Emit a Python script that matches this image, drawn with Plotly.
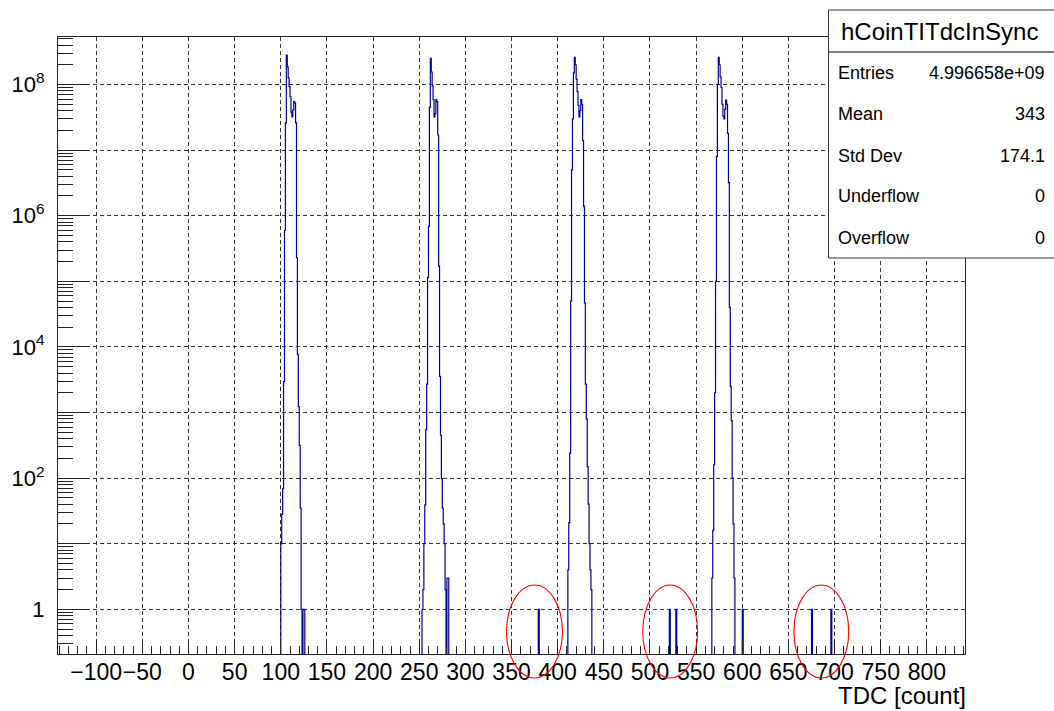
import plotly.graph_objects as go

# ---------------- data ----------------
# histogram: 1-unit wide bins, edges from bin_low_edge to bin_high_edge
bin_low_edge = -141
bin_high_edge = 841

peak1_first_bin = 100
peak1_counts = [10, 28, 69, 2950, 6.0e5, 2.6e7, 2.8e8, 1.86e8, 1.26e8, 9.3e7,
                6.5e7, 3.8e7, 3.2e7, 4.1e7, 5.5e7, 5.2e7, 2.6e7, 2.3e5, 7600,
                1230, 316, 35, 1, 0, 1, 1]

peak2_first_bin = 253
peak2_counts = [1, 2, 10, 39, 550, 2700, 1.15e5, 6.9e5, 4.5e7, 2.5e8, 1.55e8,
                9.5e7, 5.9e7, 3.2e7, 3.6e7, 5.9e7, 5.5e7, 1.7e7, 1.7e5, 3550,
                450, 98, 35, 20, 10, 2, 0, 3, 3]

peak3_first_bin = 411
peak3_counts = [4, 21, 240, 5.0e4, 5.0e6, 3.0e7, 1.5e8, 2.6e8, 2.0e8, 1.2e8,
                7.8e7, 4.8e7, 3.2e7, 4.0e7, 5.9e7, 5.0e7, 1.4e7, 1.4e6, 4.7e4,
                2700, 800, 150, 40, 10, 4, 2]

peak4_first_bin = 567
peak4_counts = [3, 16, 160, 2000, 1.0e5, 8.0e6, 1.0e8, 2.6e8, 2.0e8, 1.3e8,
                9.0e7, 5.0e7, 3.3e7, 3.0e7, 4.2e7, 5.8e7, 5.0e7, 1.8e7, 3.2e6,
                4.0e4, 2500, 750, 100, 20, 3]

isolated_bins = [379, 521, 528, 600, 675, 696]
isolated_counts = [1, 1, 1, 1, 1, 1]

x_tick_vals = [-100, -50, 0, 50, 100, 150, 200, 250, 300, 350, 400, 450,
               500, 550, 600, 650, 700, 750, 800]
x_tick_text = ["\u2212100", "\u221250", "0", "50", "100", "150", "200", "250",
               "300", "350", "400", "450", "500", "550", "600", "650", "700",
               "750", "800"]
y_tick_vals = [1, 1e1, 1e2, 1e3, 1e4, 1e5, 1e6, 1e7, 1e8]
y_tick_text = ["1", "", "10<sup>2</sup>", "", "10<sup>4</sup>", "",
               "10<sup>6</sup>", "", "10<sup>8</sup>"]

x_title = "TDC [count]"
stats_title = "hCoinTITdcInSync"
stats_labels = ["Entries", "Mean", "Std Dev", "Underflow", "Overflow"]
stats_values = ["4.996658e+09", "343", "174.1", "0", "0"]

# circled regions (TDC ranges of the red ellipses)
circle_x_ranges = [(344.6, 405.1), (492.2, 551.6), (655.9, 715.3)]

# ---------------- build the histogram ----------------
edges = list(range(bin_low_edge, bin_high_edge + 1))
counts = [0.0] * (len(edges) - 1)
for start, vals in [(peak1_first_bin, peak1_counts), (peak2_first_bin, peak2_counts),
                    (peak3_first_bin, peak3_counts), (peak4_first_bin, peak4_counts)]:
    for i, v in enumerate(vals):
        counts[start - bin_low_edge + i] = v
for b, v in zip(isolated_bins, isolated_counts):
    counts[b - bin_low_edge] = v

FLOOR = 1e-3  # empty bins drawn below the log-axis minimum (like ROOT)
y_plot = [c if c > 0 else FLOOR for c in counts]
y_plot.append(y_plot[-1])

fig = go.Figure()
fig.add_trace(go.Scatter(
    x=edges, y=y_plot, mode="lines", line_shape="hv",
    line=dict(color="rgb(0,0,150)", width=1.2),
    hoverinfo="skip", showlegend=False))

FONT = "Liberation Sans, Arial, Helvetica, sans-serif"
AXCOL = "#222222"
GRIDCOL = "#333333"

minor_y = [m * 10 ** k for k in range(-1, 9) for m in range(2, 10)]
minor_y = [v for v in minor_y if 0.2 < v < 5.3e8]

fig.update_xaxes(
    type="linear", range=[-141.4, 841.3],
    tickmode="array", tickvals=x_tick_vals, ticktext=x_tick_text, tickangle=0,
    ticks="inside", ticklen=14, tickwidth=1, tickcolor=AXCOL,
    ticklabelstandoff=-3,
    minor=dict(tickmode="linear", tick0=0, dtick=10, ticks="inside", ticklen=8,
               tickwidth=1, tickcolor=AXCOL, showgrid=False),
    showgrid=True, gridcolor=GRIDCOL, gridwidth=1, griddash="4px,3px",
    showline=True, linecolor=AXCOL, linewidth=1, mirror=True,
    zeroline=False, tickfont=dict(family=FONT, size=23, color="black"),
)
fig.update_yaxes(
    type="log", range=[-0.681, 8.724],
    tickmode="array", tickvals=y_tick_vals, ticktext=y_tick_text,
    ticks="inside", ticklen=31, tickwidth=1, tickcolor=AXCOL,
    ticklabelstandoff=8,
    minor=dict(tickmode="array", tickvals=minor_y, ticks="inside", ticklen=15,
               tickwidth=1, tickcolor=AXCOL, showgrid=False),
    showgrid=True, gridcolor=GRIDCOL, gridwidth=1, griddash="4px,3px",
    showline=True, linecolor=AXCOL, linewidth=1, mirror=True,
    zeroline=False, tickfont=dict(family=FONT, size=22, color="black"),
)

shapes = []
# red ellipses
for x0, x1 in circle_x_ranges:
    shapes.append(dict(type="circle", xref="x", yref="paper", x0=x0, x1=x1,
                       y0=-0.0389, y1=0.1118, line=dict(color="red", width=1.1),
                       fillcolor="rgba(0,0,0,0)", layer="above"))
# stats box
shapes.append(dict(type="rect", xref="paper", yref="paper", x0=0.8495, x1=1.12,
                   y0=0.6418, y1=1.0438, line=dict(color="#333333", width=1),
                   fillcolor="white", layer="above"))
shapes.append(dict(type="line", xref="paper", yref="paper", x0=0.8495, x1=1.12,
                   y0=0.9757, y1=0.9757, line=dict(color="#555555", width=1.5),
                   layer="above"))

annotations = []
annotations.append(dict(text=x_title, xref="paper", yref="paper", x=1.0033, y=-0.068,
                        xanchor="right", yanchor="middle", showarrow=False,
                        font=dict(family=FONT, size=24, color="black")))
annotations.append(dict(text=stats_title, xref="paper", yref="paper", x=0.9714,
                        y=1.0097, xanchor="center", yanchor="middle", showarrow=False,
                        font=dict(family=FONT, size=24, color="black")))
row_y = [0.9417, 0.8744, 0.8079, 0.7415, 0.6742]
for lab, val, yy in zip(stats_labels, stats_values, row_y):
    annotations.append(dict(text=lab, xref="paper", yref="paper", x=0.8574, y=yy,
                            xanchor="left", yanchor="middle", showarrow=False,
                            font=dict(family=FONT, size=18, color="black")))
    annotations.append(dict(text=val, xref="paper", yref="paper", x=1.0901, y=yy,
                            xanchor="right", yanchor="middle", showarrow=False,
                            font=dict(family=FONT, size=18, color="black")))

fig.update_layout(
    width=1054, height=711,
    margin=dict(l=55, r=89, t=37, b=57, pad=0),
    paper_bgcolor="white", plot_bgcolor="white",
    shapes=shapes, annotations=annotations,
    showlegend=False,
)

fig.write_html("out.html",
               config={"displayModeBar": False},
               post_script="document.body.style.margin='0px';"
                           "document.body.style.overflow='hidden';")
